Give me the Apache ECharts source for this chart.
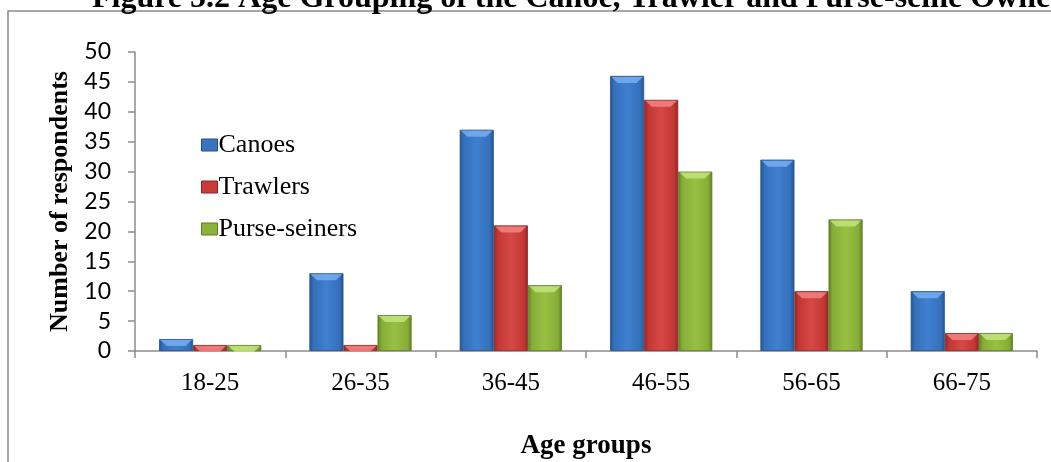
<!DOCTYPE html>
<html>
<head>
<meta charset="utf-8">
<script src="https://cdn.jsdelivr.net/npm/echarts@6/dist/echarts.min.js"></script>
<style>
  html, body { margin: 0; padding: 0; background: #fff; }
  #chart { width: 1051px; height: 462px; }
</style>
</head>
<body>
<div id="chart"></div>
<script>
// Age groups of the owners
const ageGroups = ['18-25', '26-35', '36-45', '46-55', '56-65', '66-75'];
// Number of respondents per age group
const canoes = [2, 13, 37, 46, 32, 10];
const trawlers = [1, 1, 21, 42, 10, 3];
const purseSeiners = [1, 6, 11, 30, 22, 3];

const serif = '"Liberation Serif", "Times New Roman", serif';
const sans = 'Lato, "Noto Sans", sans-serif';

// Bevelled look: darker edges, lighter centre
function shade(edge, mid, light) {
  return {
    type: 'linear', x: 0, y: 0, x2: 1, y2: 0,
    colorStops: [
      { offset: 0, color: edge },
      { offset: 0.12, color: mid },
      { offset: 0.5, color: light },
      { offset: 0.88, color: mid },
      { offset: 1, color: edge }
    ]
  };
}

const styles = [
  { name: 'Canoes', data: canoes, color: shade('#24548f', '#3470bb', '#3f80cf'), border: '#22508a', legend: '#3a74c0', cap: '#78aef0' },
  { name: 'Trawlers', data: trawlers, color: shade('#8f2523', '#c33634', '#d44846'), border: '#8a2422', legend: '#c83c3a', cap: '#f08482' },
  { name: 'Purse-seiners', data: purseSeiners, color: shade('#5f7f22', '#86ad36', '#98c043'), border: '#5d7c22', legend: '#8bb23a', cap: '#c4e47c' }
];

// Chamfered highlight on top of each bar
const capPath = 'path://M0,0 L20,0 L16,10 L4,10 Z';

const bars = styles.map(s => ({
  name: s.name,
  type: 'bar',
  data: s.data,
  barGap: '0%',
  barCategoryGap: '32%',
  itemStyle: { color: s.color, borderColor: s.border, borderWidth: 0.8 },
  z: 2
}));

const caps = styles.map(s => ({
  name: s.name,
  type: 'pictorialBar',
  data: s.data,
  barGap: '0%',
  barCategoryGap: '32%',
  symbol: capPath,
  symbolSize: ['92%', 6],
  symbolPosition: 'end',
  symbolOffset: [0, 1],
  itemStyle: { color: s.cap, opacity: 0.85 },
  silent: true,
  z: 3
}));

const chart = echarts.init(document.getElementById('chart'));
chart.setOption({
  animation: false,
  backgroundColor: '#ffffff',
  title: {
    text: 'Figure 5.2 Age Grouping of the Canoe, Trawler and Purse-seine Owners',
    left: 92,
    top: -17,
    padding: 0,
    textStyle: { fontFamily: serif, fontWeight: 'bold', fontSize: 32, color: '#000' }
  },
  graphic: [{
    type: 'rect',
    shape: { x: 8, y: 11, width: 1100, height: 500 },
    style: { fill: 'none', stroke: '#8c8c8c', lineWidth: 1.5 },
    silent: true,
    z: -1
  }],
  legend: {
    orient: 'vertical',
    left: 196,
    top: 127,
    itemWidth: 16,
    itemHeight: 12,
    itemGap: 16,
    icon: 'rect',
    textStyle: { fontFamily: serif, fontSize: 26, color: '#000', padding: [0, 0, 0, -4] },
    data: styles.map(s => ({ name: s.name, itemStyle: { color: s.legend, borderColor: s.border, borderWidth: 1 } }))
  },
  grid: { left: 135, right: 14, top: 52, bottom: 111, containLabel: false, outerBoundsMode: 'none' },
  xAxis: {
    type: 'category',
    data: ageGroups,
    name: 'Age groups',
    nameLocation: 'middle',
    nameGap: 82,
    nameTextStyle: { fontFamily: serif, fontWeight: 'bold', fontSize: 27, color: '#000' },
    axisLine: { lineStyle: { color: '#8c8c8c', width: 1.5 } },
    axisTick: { show: true, length: 7, lineStyle: { color: '#8c8c8c', width: 1.5 } },
    axisLabel: { fontFamily: serif, fontSize: 25, color: '#000', margin: 20 }
  },
  yAxis: {
    type: 'value',
    min: 0,
    max: 50,
    interval: 5,
    name: 'Number of respondents',
    nameLocation: 'middle',
    nameGap: 60,
    nameTextStyle: { fontFamily: serif, fontWeight: 'bold', fontSize: 26, color: '#000' },
    axisLine: { show: true, lineStyle: { color: '#8c8c8c', width: 1.5 } },
    axisTick: { show: true, length: 7, inside: false, lineStyle: { color: '#8c8c8c', width: 1.5 } },
    splitLine: { show: false },
    axisLabel: { fontFamily: sans, fontSize: 23, color: '#000', margin: 24 }
  },
  series: bars.concat(caps)
});
</script>
</body>
</html>
